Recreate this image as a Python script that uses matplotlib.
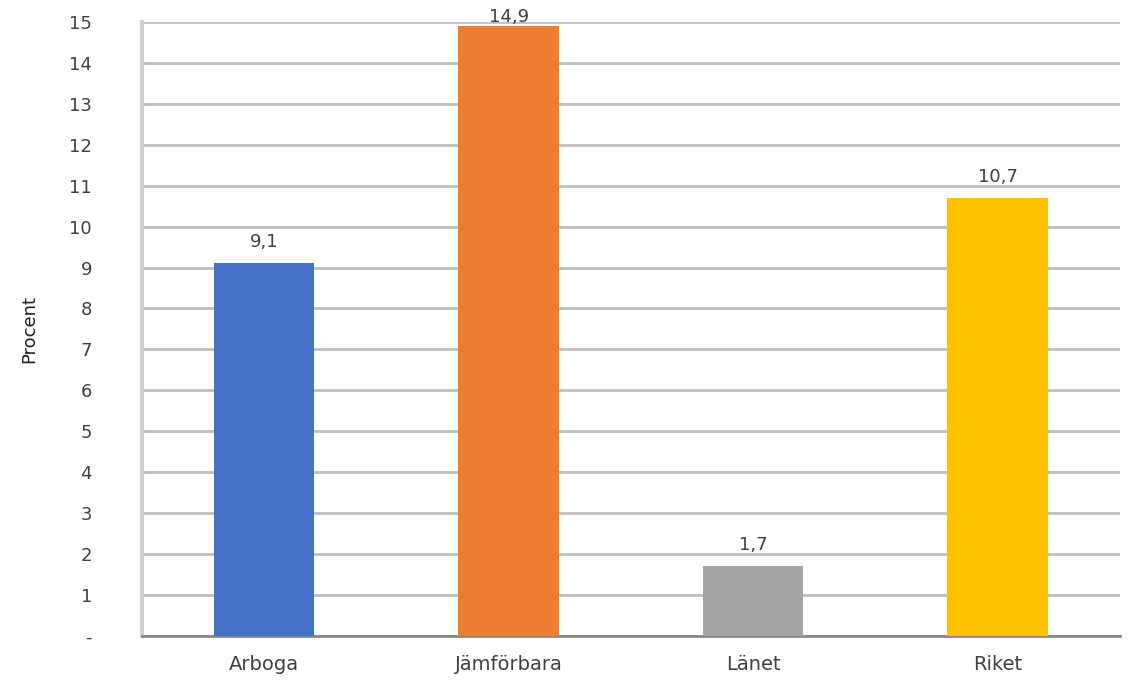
import numpy as np
import matplotlib.pyplot as plt

# data
categories = ['Arboga', 'Jämförbara', 'Länet', 'Riket']
values = [9.1, 14.9, 1.7, 10.7]
colors = ['#4472C4', '#ED7D31', '#A5A5A5', '#FFC000']
yticks = list(range(0, 16))
ytick_labels = ['-'] + [str(v) for v in yticks[1:]]

fig = plt.figure(figsize=(11.31, 6.86), dpi=100)
ax = fig.add_axes([0.1255, 0.073, 0.8645, 0.895])

x = np.arange(len(categories))
bars = ax.bar(x, values, width=0.41, color=colors, zorder=3)

# värdeetiketter ovanför staplarna
for xi, v in zip(x, values):
    ypos = min(v + 0.4, 15.0)
    ax.text(xi, ypos, f'{v:.1f}'.replace('.', ','), ha='center', va='baseline',
            fontsize=13, color='#404040', clip_on=False, zorder=4)

ax.set_xlim(-0.5, len(categories) - 0.5)
ax.set_ylim(0, 15)
ax.set_yticks(yticks)
ax.set_yticklabels(ytick_labels, fontsize=13, color='#404040')
ax.set_xticks(x)
ax.set_xticklabels(categories, fontsize=14, color='#404040')
ax.tick_params(axis='both', length=0)
ax.tick_params(axis='y', pad=36)
ax.tick_params(axis='x', pad=14)

ax.yaxis.grid(True, color='#BFBFBF', linewidth=2, zorder=0)
ax.set_axisbelow(True)
for s in ['top', 'right']:
    ax.spines[s].set_visible(False)
ax.spines['left'].set_color('#D0D0D0')
ax.spines['left'].set_linewidth(3)
ax.spines['bottom'].set_color('#898989')
ax.spines['bottom'].set_linewidth(2)

ax.set_ylabel('Procent', fontsize=13, color='#202020', labelpad=22)

fig.savefig('out.png', dpi=100)
